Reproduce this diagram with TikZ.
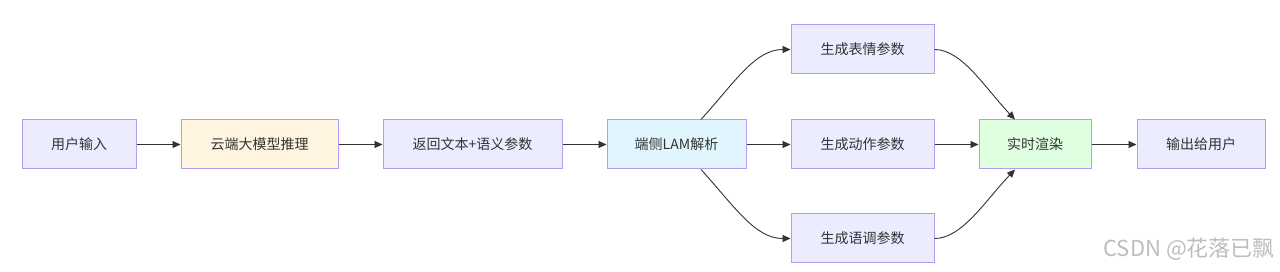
\documentclass[tikz,border=0pt]{standalone}
\usepackage{fontspec}
\setmainfont{Noto Sans CJK SC}
\usetikzlibrary{arrows.meta}
\definecolor{boxfill}{HTML}{ECECFF}
\definecolor{boxline}{HTML}{B49CF0}
\definecolor{cloudfill}{HTML}{FFF4E0}
\definecolor{edgefill}{HTML}{E1F5FE}
\definecolor{renderfill}{HTML}{E0FFE0}
\definecolor{txt}{HTML}{333333}
\definecolor{wm}{HTML}{BDBDBD}
\tikzset{
  box/.style={draw=boxline, line width=1pt, fill=boxfill, minimum height=49pt, inner sep=0pt, text=txt, font=\fontsize{14pt}{16pt}\selectfont},
  link/.style={draw=txt, line width=0.9pt, -{Triangle[length=8pt,width=7pt]}},
}
\begin{document}
\begin{tikzpicture}[x=1pt,y=-1pt]
\useasboundingbox (0,0) rectangle (1280,272);
\node[box, minimum width=114pt] (u) at (79,144.5) {用户输入};
\node[box, minimum width=157pt, fill=cloudfill] (c) at (259.5,144.5) {云端大模型推理};
\node[box, minimum width=179pt] (r) at (472.5,144.5) {返回文本+语义参数};
\node[box, minimum width=139pt, fill=edgefill] (l) at (676.5,144.5) {端侧LAM解析};
\node[box, minimum width=143pt] (e) at (862.5,49.5) {生成表情参数};
\node[box, minimum width=143pt] (a) at (862.5,144.5) {生成动作参数};
\node[box, minimum width=143pt] (t) at (862.5,238.5) {生成语调参数};
\node[box, minimum width=112pt, fill=renderfill] (s) at (1035,144.5) {实时渲染};
\node[box, minimum width=128pt] (o) at (1201,144.5) {输出给用户};
\node[text=wm, font=\fontsize{22pt}{24pt}\selectfont, anchor=east, inner sep=0pt] (w) at (1275,249) {CSDN @花落已飘};
\draw[link] (u) -- (c);
\draw[link] (c) -- (r);
\draw[link] (r) -- (l);
\draw[link] (l) -- (a);
\draw[link] (a) -- (s);
\draw[link] (s) -- (o);
\draw[link] ([xshift=24.5pt]l.north) .. controls (735,82) and (755,49.5) .. (e.west);
\draw[link] ([xshift=24.5pt]l.south) .. controls (735,207) and (755,238.5) .. (t.west);
\draw[link] (e.east) .. controls (962,49.5) and (985,88) .. ([xshift=-20pt]s.north);
\draw[link] (t.east) .. controls (962,238.5) and (985,201) .. ([xshift=-20pt]s.south);
\end{tikzpicture}
\end{document}
